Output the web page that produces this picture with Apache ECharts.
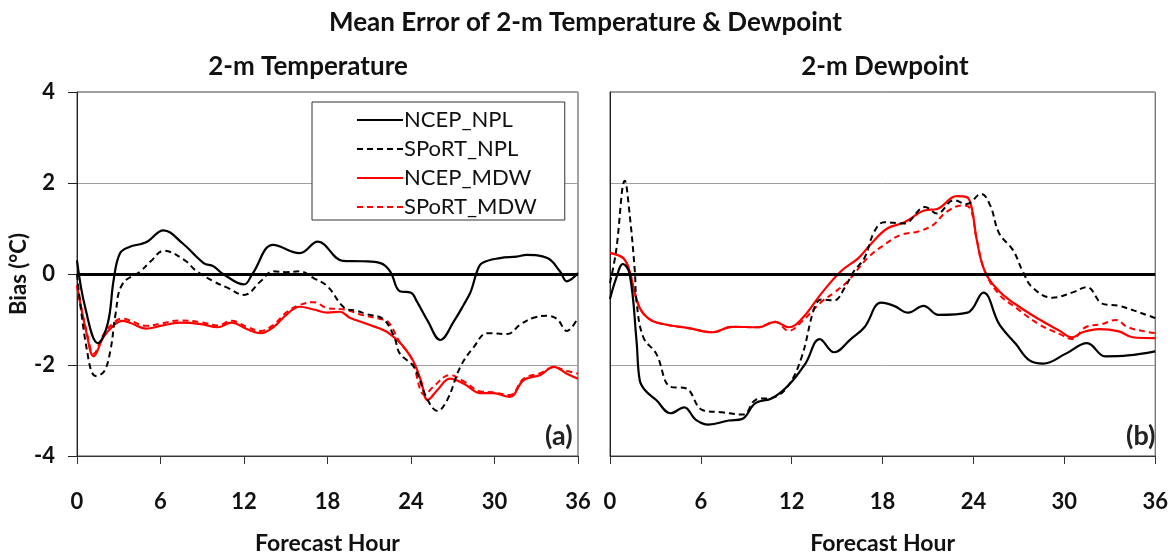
<!DOCTYPE html>
<html>
<head>
<meta charset="utf-8">
<script src="https://cdn.jsdelivr.net/npm/echarts@6/dist/echarts.min.js"></script>
<style>
  html, body { margin: 0; padding: 0; background: #fff; }
  #c1 { width: 1171px; height: 560px; }
</style>
</head>
<body>
<div id="c1"></div>
<script>
// forecast hour / bias pairs
const hourTicks = [0, 6, 12, 18, 24, 30, 36]
const biasTicks = [-4, -2, 0, 2, 4]
const seriesNames = ['NCEP_NPL', 'SPoRT_NPL', 'NCEP_MDW', 'SPoRT_MDW']

const tempNcepNpl = [[0,0.3],[0.6,-0.75],[1.5,-1.52],[2.2,-1.1],[2.65,-0.1],[3.1,0.46],[3.8,0.6],[4.6,0.66],[5.1,0.72],[6.2,0.96],[7.6,0.67],[9.1,0.24],[9.8,0.17],[10.5,0],[12,-0.23],[12.6,0],[14.1,0.64],[16,0.46],[17.3,0.71],[19.1,0.29],[20.5,0.28],[21.8,0.24],[22.5,0.06],[23.2,-0.38],[24,-0.41],[24.4,-0.59],[25.2,-1.03],[26.1,-1.45],[27.1,-1.03],[27.8,-0.67],[28.3,-0.38],[28.75,0.06],[29.1,0.24],[30.4,0.35],[31.6,0.38],[32.3,0.42],[33.8,0.35],[34.7,0.06],[35.2,-0.16],[36,0.02]]
const tempSportNpl = [[0,0],[0.7,-1.65],[1.34,-2.24],[1.93,-2.15],[2.4,-1.68],[2.77,-0.88],[3.25,-0.23],[4.56,0.06],[5.3,0.28],[6.24,0.51],[7.7,0.31],[8.6,0.06],[9.8,-0.16],[10.8,-0.3],[12,-0.46],[13.2,-0.16],[14.1,0.06],[15,0.04],[16,0.06],[17,-0.09],[18,-0.27],[19.2,-0.74],[20.1,-0.81],[20.8,-0.88],[22,-0.99],[22.8,-1.39],[23.2,-1.75],[24.2,-2.04],[25.2,-2.77],[25.9,-3.01],[26.6,-2.77],[27.55,-2.04],[28.5,-1.61],[29.5,-1.3],[30.9,-1.32],[31.9,-1.1],[32.8,-0.96],[33.8,-0.92],[34.5,-0.99],[35.2,-1.25],[36,-0.96]]
const tempNcepMdw = [[0,-0.25],[0.7,-1.32],[1.2,-1.81],[1.9,-1.39],[2.6,-1.14],[3.25,-1.03],[3.8,-1.07],[5,-1.2],[6,-1.14],[7.4,-1.07],[8.9,-1.1],[10.1,-1.17],[11.1,-1.07],[12.2,-1.21],[13.2,-1.3],[14.1,-1.17],[15.1,-0.88],[16,-0.72],[17,-0.78],[18,-0.85],[18.9,-0.83],[19.6,-0.96],[20.85,-1.1],[22.5,-1.32],[24,-1.83],[24.7,-2.33],[25.2,-2.77],[25.9,-2.55],[26.8,-2.3],[27.8,-2.41],[29,-2.62],[29.9,-2.62],[31.1,-2.7],[32.1,-2.33],[33.3,-2.22],[34.25,-2.04],[35.2,-2.19],[36,-2.3]]
const tempSportMdw = [[0,-0.25],[0.7,-1.28],[1.2,-1.75],[1.9,-1.33],[2.6,-1.08],[3.25,-0.98],[3.8,-1.02],[5,-1.14],[6,-1.09],[7.4,-1.02],[8.9,-1.06],[10.1,-1.13],[11.1,-1.03],[12.2,-1.16],[13.2,-1.25],[14.1,-1.12],[15.1,-0.83],[16,-0.68],[17,-0.62],[18,-0.75],[19.2,-0.78],[20.5,-0.9],[21.8,-0.99],[22.3,-1.03],[23.2,-1.5],[24,-1.83],[25,-2.66],[25.6,-2.48],[26.8,-2.22],[27.8,-2.36],[29,-2.58],[29.9,-2.6],[31.1,-2.66],[32.1,-2.3],[33.3,-2.18],[34.25,-2.05],[35.2,-2.13],[36,-2.19]]

const dewNcepNpl = [[0,-0.55],[0.4,-0.1],[0.85,0.22],[1.3,0],[1.75,-1.46],[1.96,-2.33],[2.3,-2.55],[3.05,-2.77],[4,-3.06],[4.9,-2.93],[5.65,-3.2],[6.5,-3.31],[7.85,-3.22],[8.7,-3.19],[9.6,-2.84],[10.7,-2.73],[11.8,-2.44],[12.9,-1.97],[13.85,-1.43],[14.8,-1.72],[15.9,-1.43],[16.8,-1.17],[17.9,-0.63],[18.75,-0.7],[19.7,-0.85],[20.7,-0.7],[21.7,-0.9],[23.6,-0.85],[24.65,-0.41],[25.7,-1.1],[26.8,-1.54],[27.7,-1.9],[28.6,-1.97],[30.1,-1.75],[31.5,-1.52],[32.7,-1.81],[34.2,-1.79],[36,-1.7]]
const dewSportNpl = [[0,-0.2],[0.4,0.5],[0.98,2.05],[1.3,1.3],[1.64,0.06],[1.75,-0.6],[2.2,-1.39],[3.05,-1.75],[4,-2.48],[5,-2.51],[6.1,-2.99],[7.4,-3.04],[8.8,-3.09],[9.6,-2.77],[10.9,-2.7],[11.8,-2.44],[12.65,-1.83],[13.5,-0.74],[13.95,-0.56],[14.8,-0.58],[15.5,-0.3],[16.1,0.06],[16.8,0.35],[17.45,0.93],[18.1,1.14],[19.4,1.11],[20.8,1.47],[21.6,1.33],[22.7,1.62],[23.55,1.54],[24.5,1.76],[25.1,1.51],[25.7,0.89],[26.6,0.53],[27.25,0.06],[27.9,-0.3],[29.2,-0.52],[30.5,-0.41],[31.5,-0.29],[32.5,-0.65],[33.6,-0.7],[35.6,-0.92],[36,-0.97]]
const dewNcepMdw = [[0,0.46],[0.87,0.35],[1.3,0.06],[1.5,-0.23],[1.96,-0.74],[2.6,-0.99],[3.5,-1.1],[5.2,-1.19],[6.76,-1.28],[8.07,-1.16],[9.8,-1.17],[10.9,-1.05],[11.8,-1.17],[12.65,-0.99],[14,-0.41],[15.25,0.06],[16.4,0.35],[17.2,0.65],[18.3,1],[19.4,1.13],[20.8,1.4],[21.6,1.43],[22.9,1.71],[23.55,1.69],[23.9,1.43],[24.2,0.78],[24.75,0.06],[25.7,-0.38],[26.8,-0.67],[28.3,-0.99],[29.7,-1.25],[30.5,-1.39],[31.2,-1.28],[32.3,-1.21],[33.6,-1.26],[34.5,-1.39],[36,-1.41]]
const dewSportMdw = [[0,0.46],[0.87,0.35],[1.3,0.06],[1.5,-0.23],[1.96,-0.74],[2.6,-0.99],[3.5,-1.1],[5.2,-1.19],[6.76,-1.28],[8.07,-1.16],[9.8,-1.17],[10.9,-1.05],[11.8,-1.25],[12.65,-1.05],[14,-0.6],[14.8,-0.41],[15.7,-0.16],[17,0.35],[18.1,0.64],[19.2,0.86],[20.3,0.93],[21.3,1.07],[22.2,1.36],[23.3,1.51],[23.8,1.43],[24.2,0.78],[24.75,0.06],[25.7,-0.45],[26.8,-0.74],[28.3,-1.1],[29.7,-1.32],[30.5,-1.43],[31.4,-1.17],[32.5,-1.1],[33.4,-1.01],[34.2,-1.17],[35.6,-1.28],[36,-1.3]]

const font = 'Lato, "Open Sans", sans-serif'
const styles = [
  { color: '#000', type: 'solid', width: 2.2 },
  { color: '#000', type: [6, 4], width: 2 },
  { color: '#ff0000', type: 'solid', width: 2.2 },
  { color: '#ff0000', type: [6, 4], width: 2 }
]

const mkSeries = (data, idx, gridIdx) => ({
  name: seriesNames[idx],
  type: 'line',
  xAxisIndex: gridIdx,
  yAxisIndex: gridIdx,
  data: data,
  smooth: 0.4,
  showSymbol: false,
  symbol: 'none',
  lineStyle: styles[idx],
  itemStyle: { color: styles[idx].color },
  z: 3 + (3 - idx)
})

const zeroLine = {
  name: 'zero',
  type: 'line',
  data: [],
  markLine: {
    silent: true,
    symbol: 'none',
    label: { show: false },
    lineStyle: { color: '#000', width: 3, type: 'solid' },
    data: [{ yAxis: 0 }]
  },
  z: 2
}

const xAxisBase = {
  type: 'value',
  min: 0,
  max: 36,
  interval: 6,
  name: 'Forecast Hour',
  nameLocation: 'middle',
  nameGap: 76,
  nameTextStyle: { fontFamily: font, fontSize: 23, fontWeight: 'bold', color: '#111' },
  axisLine: { onZero: false, lineStyle: { color: '#333', width: 1 } },
  axisTick: { show: true, length: 8, lineStyle: { color: '#333' } },
  axisLabel: { margin: 35, fontFamily: font, fontSize: 22, fontWeight: 'bold', color: '#111' },
  splitLine: { show: false }
}

const yAxisBase = {
  type: 'value',
  min: -4,
  max: 4,
  interval: 2,
  axisLine: { show: true, lineStyle: { color: '#222', width: 1 } },
  splitLine: { show: true, lineStyle: { color: '#a0a0a0', width: 1 } }
}

const myChart = echarts.init(document.getElementById('c1'))
const option = {
  backgroundColor: '#fff',
  animation: false,
  title: [
    { text: 'Mean Error of 2-m Temperature & Dewpoint', left: 'center', top: 5,
      textStyle: { fontFamily: font, fontSize: 26, fontWeight: 'bold', color: '#111' } },
    { text: '2-m Temperature', left: 303, top: 49, textAlign: 'center',
      textStyle: { fontFamily: font, fontSize: 26, fontWeight: 'bold', color: '#111' } },
    { text: '2-m Dewpoint', left: 880, top: 49, textAlign: 'center',
      textStyle: { fontFamily: font, fontSize: 26, fontWeight: 'bold', color: '#111' } }
  ],
  legend: {
    data: seriesNames,
    orient: 'vertical',
    left: 312,
    top: 102,
    padding: [7, 28, 2, 44],
    itemWidth: 46,
    itemHeight: 14,
    itemGap: 7,
    borderColor: '#333',
    borderWidth: 1,
    backgroundColor: '#fff',
    itemStyle: { opacity: 0 },
    textStyle: { fontFamily: font, fontSize: 22, lineHeight: 22, color: '#111', padding: [0, 0, 0, -4] }
  },
  grid: [
    { left: 77, top: 92, width: 501, height: 368, show: true, borderColor: '#444', borderWidth: 1 },
    { left: 610, top: 92, width: 550, height: 368, show: true, borderColor: '#444', borderWidth: 1 }
  ],
  xAxis: [
    Object.assign({}, xAxisBase, { gridIndex: 0 }),
    Object.assign({}, xAxisBase, { gridIndex: 1 })
  ],
  yAxis: [
    Object.assign({}, yAxisBase, {
      gridIndex: 0,
      name: 'Bias (°C)',
      nameLocation: 'middle',
      nameGap: 38,
      nameRotate: 90,
      nameTextStyle: { fontFamily: font, fontSize: 22, fontWeight: 'bold', color: '#111' },
      axisTick: { show: true, length: 9, lineStyle: { color: '#222' } },
      axisLabel: { margin: 22, fontFamily: font, fontSize: 22, fontWeight: 'bold', color: '#111' }
    }),
    Object.assign({}, yAxisBase, {
      gridIndex: 1,
      axisTick: { show: false },
      axisLabel: { show: false }
    })
  ],
  graphic: [
    { type: 'text', left: 545, top: 423, style: { text: '(a)', fontFamily: font, fontSize: 27, fontWeight: 'bold', fill: '#222' } },
    { type: 'text', left: 1126, top: 423, style: { text: '(b)', fontFamily: font, fontSize: 27, fontWeight: 'bold', fill: '#222' } }
  ],
  series: [
    Object.assign({}, zeroLine, { xAxisIndex: 0, yAxisIndex: 0 }),
    Object.assign({}, zeroLine, { xAxisIndex: 1, yAxisIndex: 1 }),
    mkSeries(tempNcepNpl, 0, 0),
    mkSeries(tempSportNpl, 1, 0),
    mkSeries(tempNcepMdw, 2, 0),
    mkSeries(tempSportMdw, 3, 0),
    mkSeries(dewNcepNpl, 0, 1),
    mkSeries(dewSportNpl, 1, 1),
    mkSeries(dewNcepMdw, 2, 1),
    mkSeries(dewSportMdw, 3, 1)
  ]
}
myChart.setOption(option)
</script>
</body>
</html>
